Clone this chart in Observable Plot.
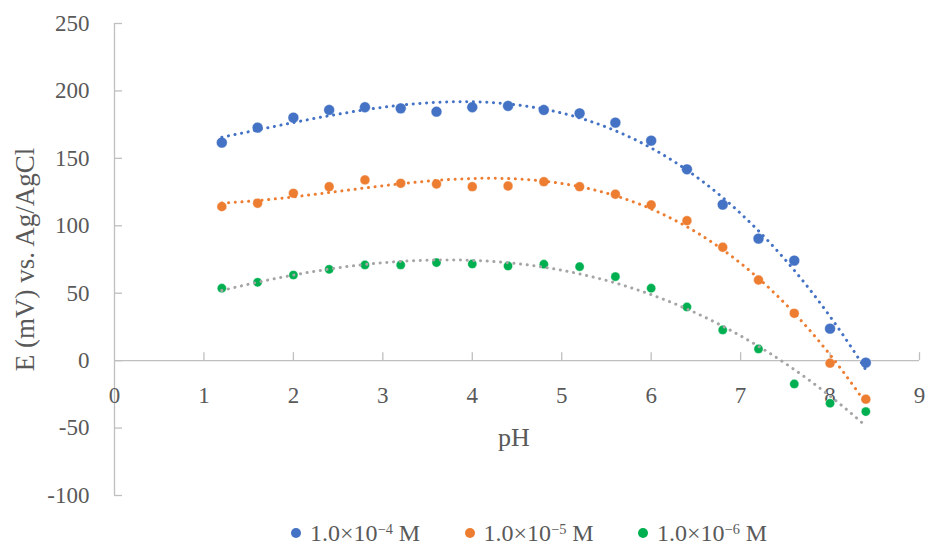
<!DOCTYPE html>
<html><head><meta charset="utf-8">
<script src="https://cdn.jsdelivr.net/npm/d3@7"></script>
<script src="https://cdn.jsdelivr.net/npm/@observablehq/plot@0.6"></script>
<style>
body{margin:0;background:#fff;font-family:"Liberation Serif","DejaVu Serif",serif;}
#legend{height:26px;display:flex;align-items:center;padding-left:291px;color:#595959;font-size:24px;}
.item{display:flex;align-items:center;width:173.5px;white-space:nowrap;}
.sw{width:10px;height:10px;border-radius:50%;margin-right:9px;flex:none;}
sup{font-size:0.6em;vertical-align:0.5em;line-height:0;}
</style></head><body><div id="chart"></div><div id="legend"></div>
<script>
// ---- data ----
const pH = [1.2,1.6,2.0,2.4,2.8,3.2,3.6,4.0,4.4,4.8,5.2,5.6,6.0,6.4,6.8,7.2,7.6,8.0,8.4];
const e4 = [161.7,172.8,180.2,185.9,187.9,187.1,184.6,187.9,188.9,185.9,183.4,176.5,163.1,141.9,115.7,90.5,74.2,23.7,-1.5];
const e5 = [114.2,116.7,124.1,129.0,134.0,131.5,131.0,129.0,129.5,132.7,129.0,123.4,115.5,103.8,84.1,59.8,35.1,-1.9,-28.6];
const e6 = [53.7,58.1,63.5,67.7,71.0,71.0,72.7,71.7,70.2,71.5,69.7,62.3,53.7,39.8,22.8,8.7,-17.3,-31.6,-37.8];
const seriesBase = ["1.0×10","1.0×10","1.0×10"];
const seriesExp = ["−4","−5","−6"];
const seriesUnit = [" M"," M"," M"];
const seriesKeys = ["1.0×10⁻⁴ M","1.0×10⁻⁵ M","1.0×10⁻⁶ M"];
const xTicks = [0,1,2,3,4,5,6,7,8,9];
const yTicks = [-100,-50,0,50,100,150,200,250];
const xTitle = "pH";
const yTitle = "E (mV) vs. Ag/AgCl";

// ---- styles ----
const markerColors = ["#4472C4","#ED7D31","#00B050"];
const trendColors = ["#4472C4","#ED7D31","#A5A5A5"];
const markerR = [5.4,4.9,4.6];
const W = 926, H = 520, mt = 23, mb = 25, ml = 114, mr = 7;
const axisColor = "#BFBFBF", textColor = "#595959";
const yPerPx = 350 / (H - mt - mb);
const xPerPx = 9 / (W - ml - mr);

// polynomial least-squares trendline (as Excel's polynomial trendline)
function polyfit(xs, ys, order){
  const n = order + 1;
  const A = Array.from({length:n}, () => Array(n+1).fill(0));
  for (let k = 0; k < xs.length; k++){
    for (let i = 0; i < n; i++){
      for (let j = 0; j < n; j++) A[i][j] += Math.pow(xs[k], i+j);
      A[i][n] += ys[k] * Math.pow(xs[k], i);
    }
  }
  for (let i = 0; i < n; i++){
    let p = i;
    for (let r = i+1; r < n; r++) if (Math.abs(A[r][i]) > Math.abs(A[p][i])) p = r;
    [A[i], A[p]] = [A[p], A[i]];
    for (let r = 0; r < n; r++){
      if (r !== i){
        const f = A[r][i] / A[i][i];
        for (let c = i; c <= n; c++) A[r][c] -= f * A[i][c];
      }
    }
  }
  return A.map((row, i) => row[n] / row[i]);
}
const allSeries = [e4, e5, e6];
const points = allSeries.flatMap((ys, s) => pH.map((x, i) => ({x, y: ys[i], s})));
const xs = d3.range(pH[0], pH[pH.length-1] + 1e-9, 0.02);
const trends = allSeries.flatMap((ys, s) => {
  const c = polyfit(pH, ys, 3);
  return xs.map(x => ({x, y: c.reduce((a, ci, i) => a + ci * Math.pow(x, i), 0), s}));
});

const marks = [
  Plot.ruleY([0], {stroke: axisColor, strokeWidth: 1.3}),
  Plot.ruleX([0], {stroke: axisColor, strokeWidth: 1.3}),
  Plot.ruleX(xTicks.filter(d => d !== 0), {x: d => d, y1: 0, y2: 8 * yPerPx, stroke: axisColor, strokeWidth: 1.3}),
  Plot.ruleY(yTicks, {y: d => d, x1: 0, x2: 8 * xPerPx, stroke: axisColor, strokeWidth: 1.3}),
  Plot.text(xTicks, {x: d => d, y: 0, text: d => String(d), dy: 35, fontSize: 23, fill: textColor, lineAnchor: "middle"}),
  Plot.text(yTicks, {x: 0, y: d => d, text: d => String(d), dx: -25, fontSize: 23, fill: textColor, textAnchor: "end", lineAnchor: "middle"}),
  Plot.text([xTitle], {frameAnchor: "bottom", text: d => d, dx: -3, dy: -58, fontSize: 26, fill: textColor, textAnchor: "middle", lineAnchor: "middle"}),
  Plot.text([yTitle], {frameAnchor: "left", text: d => d, dx: -89, dy: 0, rotate: -90, fontSize: 27, fill: textColor, textAnchor: "middle", lineAnchor: "middle"})
];
[0,1,2].forEach(s => {
  marks.push(Plot.dot(points.filter(d => d.s === s), {x: "x", y: "y", r: markerR[s], fill: markerColors[s], stroke: "white", strokeWidth: 0.4}));
});
[0,1,2].forEach(s => {
  marks.push(Plot.line(trends.filter(d => d.s === s), {x: "x", y: "y", stroke: trendColors[s], strokeWidth: 3, strokeDasharray: "0.1 6.6", strokeLinecap: "round"}));
});

const chart = Plot.plot({
  width: W, height: H,
  marginTop: mt, marginBottom: mb, marginLeft: ml, marginRight: mr,
  x: {domain: [0, 9], axis: null},
  y: {domain: [-100, 250], axis: null},
  style: {fontFamily: "'Liberation Serif','DejaVu Serif',serif", background: "#fff", overflow: "visible"},
  marks
});
document.getElementById("chart").appendChild(chart);

const legend = document.getElementById("legend");
seriesKeys.forEach((k, i) => {
  const item = document.createElement("div");
  item.className = "item";
  item.title = k;
  const sw = document.createElement("span");
  sw.className = "sw";
  sw.style.background = markerColors[i];
  const t = document.createElement("span");
  t.append(seriesBase[i]);
  const sup = document.createElement("sup");
  sup.textContent = seriesExp[i];
  t.append(sup, seriesUnit[i]);
  item.append(sw, t);
  legend.appendChild(item);
});
</script>
</body></html>
